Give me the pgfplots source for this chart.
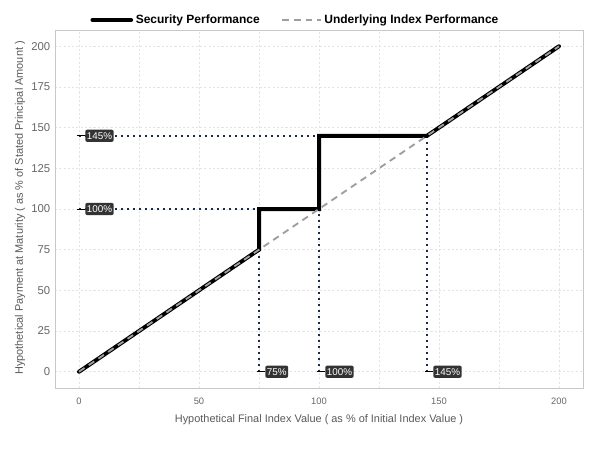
\documentclass[border=0pt]{standalone}
\usepackage{pgfplots}
\pgfplotsset{compat=1.18}
\usepackage{fontspec}
\setmainfont{Liberation Sans}
\definecolor{gridgray}{HTML}{E2E2E8}
\definecolor{bordergray}{HTML}{C8C8C8}
\definecolor{tickgray}{HTML}{666666}
\definecolor{titlegray}{HTML}{595959}
\definecolor{dotnavy}{HTML}{1B2A4A}
\definecolor{labelbg}{HTML}{333333}
\definecolor{idxgray}{HTML}{9E9E9E}

\begin{document}
\begin{tikzpicture}[
  lbl/.style={fill=labelbg, text=white, rounded corners=1.5pt, inner xsep=1.2pt, inner ysep=2pt,
              font=\fontsize{7.4}{8}\selectfont, anchor=west, xshift=4.5pt}]
\useasboundingbox (-41.25pt,-46.5pt) rectangle (408.75pt,291pt);
\begin{axis}[
  at={(0,0)}, anchor=south west,
  scale only axis, width=396pt, height=268.5pt,
  xmin=-10, xmax=210, ymin=-10, ymax=210,
  xtick={0,50,100,150,200}, minor xtick={25,75,125,175},
  ytick={0,25,...,200},
  grid=both,
  major grid style={gridgray, line width=0.5pt, dash pattern=on 1.6pt off 1.6pt},
  minor grid style={gridgray, line width=0.5pt, dash pattern=on 1.6pt off 1.6pt},
  axis line style={bordergray, line width=0.6pt},
  major tick length=0pt, minor tick length=0pt,
  /pgf/number format/assume math mode=true,
  x tick label style={font=\fontsize{7}{8}\selectfont, text=tickgray, yshift=-4pt},
  y tick label style={font=\fontsize{8.5}{9}\selectfont, text=tickgray},
  xlabel={Hypothetical Final Index Value ( as \% of Initial Index Value )},
  ylabel={Hypothetical Payment at Maturity ( as \% of Stated Principal Amount )},
  label style={font=\fontsize{8.2}{9}\selectfont, text=titlegray},
  x label style={at={(axis description cs:0.5,-0.088)}, anchor=center},
  y label style={at={(axis description cs:-0.066,0.503)}, anchor=center},
  legend style={at={(rel axis cs:0.456,1)}, anchor=center, yshift=7.5pt,
    draw=none, fill=none, legend columns=2,
    font=\bfseries\fontsize{9}{10}\selectfont,
    /tikz/every even column/.append style={column sep=14pt}},
  legend cell align=left,
  legend image code/.code={\draw[#1] (0pt,0pt) -- (29pt,0pt);},
  clip=false,
]
% dotted reference lines
\addplot[forget plot, dotnavy, line width=1.2pt, dash pattern=on 1.2pt off 3.3pt] coordinates {(0,100) (75,100)};
\addplot[forget plot, dotnavy, line width=1.2pt, dash pattern=on 1.2pt off 3.3pt] coordinates {(0,145) (100,145)};
\addplot[forget plot, dotnavy, line width=1.2pt, dash pattern=on 1.2pt off 3.3pt] coordinates {(75,0) (75,75)};
\addplot[forget plot, dotnavy, line width=1.2pt, dash pattern=on 1.2pt off 3.3pt] coordinates {(100,0) (100,100)};
\addplot[forget plot, dotnavy, line width=1.2pt, dash pattern=on 1.2pt off 3.3pt] coordinates {(145,0) (145,145)};
% security performance
\addplot[black, line width=3pt, line join=miter, line cap=round]
  coordinates {(0,0) (75,75) (75,100) (100,100) (100,145) (145,145) (200,200)};
\addlegendentry{Security Performance}
% underlying index
\addplot[idxgray, line width=1.4pt, dash pattern=on 5pt off 3.8pt]
  coordinates {(0,0) (200,200)};
\addlegendentry{Underlying Index Performance}
% labels
\node[lbl] (a) at (axis cs:0,145) {145\%};
\node[lbl] (b) at (axis cs:0,100) {100\%};
\node[lbl] (c) at (axis cs:75,0) {75\%};
\node[lbl] (d) at (axis cs:100,0) {100\%};
\node[lbl] (e) at (axis cs:145,0) {145\%};
\draw[black, line width=0.7pt] ([xshift=-1.2pt]axis cs:0,145) -- (a.west);
\draw[black, line width=0.7pt] ([xshift=-1.2pt]axis cs:0,100) -- (b.west);
\draw[black, line width=0.7pt] ([xshift=-1.2pt]axis cs:75,0) -- (c.west);
\draw[black, line width=0.7pt] ([xshift=-1.2pt]axis cs:100,0) -- (d.west);
\draw[black, line width=0.7pt] ([xshift=-1.2pt]axis cs:145,0) -- (e.west);
\end{axis}
\end{tikzpicture}
\end{document}
